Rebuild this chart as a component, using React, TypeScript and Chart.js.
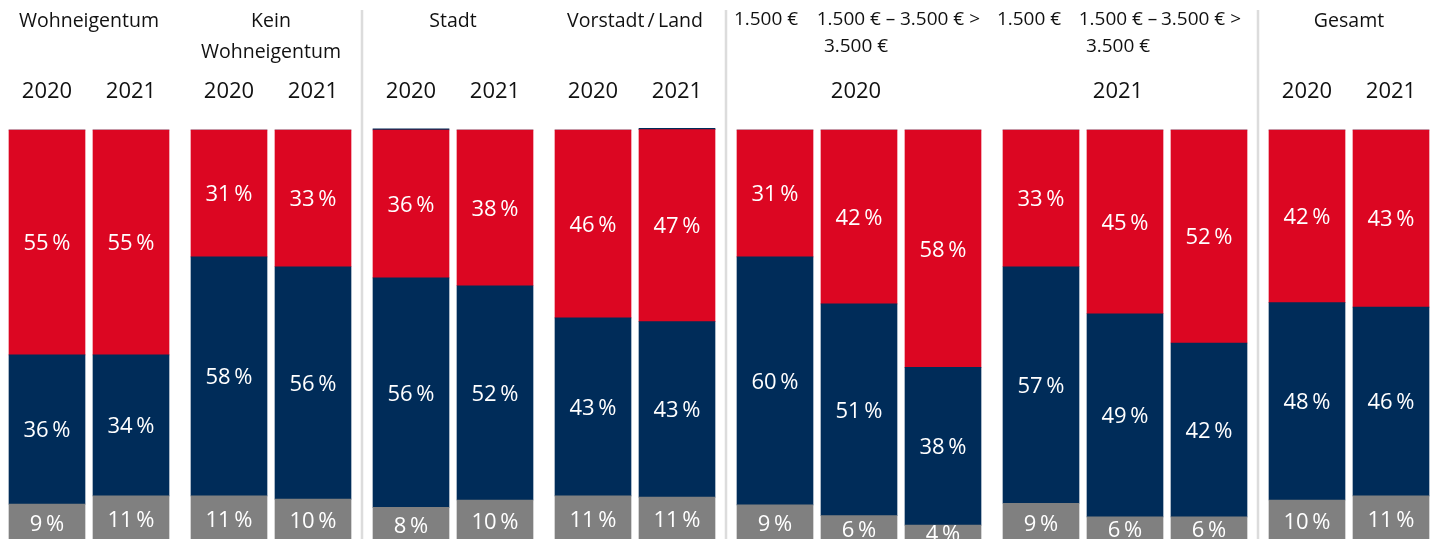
import React, { useEffect, useRef } from 'react';
import { Chart, registerables } from 'chart.js';

Chart.register(...registerables);

// ---- data ----
const groupTitles: string[][] = [
  ['Wohneigentum'],
  ['Kein', 'Wohneigentum'],
  ['Stadt'],
  ['Vorstadt\u2009/\u2009Land'],
  [],
  [],
  ['Gesamt'],
];
const barGroup = [0, 0, 1, 1, 2, 2, 3, 3, 4, 4, 4, 5, 5, 5, 6, 6];
const barYears = ['2020', '2021', '2020', '2021', '2020', '2021', '2020', '2021', '2020', '2020', '2020', '2021', '2021', '2021', '2020', '2021'];
const incomeLabels: string[][] = [
  [], [], [], [], [], [], [], [],
  ['1.500 €'], ['1.500 € –', '3.500 €'], ['3.500 € >'],
  ['1.500 €'], ['1.500 € –', '3.500 €'], ['3.500 € >'],
  [], [],
];
const separatorsAfterGroup = [1, 3, 5];

// shares in percent, bottom to top
const anteilGrau = [9.2, 11.2, 11.2, 10.4, 8.4, 10.2, 11.2, 10.9, 9.0, 6.4, 4.1, 9.4, 6.1, 6.1, 10.2, 11.2];
const anteilBlau = [36.2, 34.2, 58.0, 56.4, 55.7, 52.0, 43.2, 42.6, 60.2, 51.4, 38.3, 57.4, 49.3, 42.2, 47.9, 45.8];
const anteilRot = [54.6, 54.6, 30.8, 33.2, 35.9, 37.8, 45.6, 46.6, 30.8, 42.2, 57.6, 33.2, 44.6, 51.7, 41.9, 43.0];
const anteilRest = [0, 0, 0, 0, 0.3, 0, 0, 0.3, 0, 0, 0, 0, 0, 0, 0, 0];

// ---- layout / style ----
const W = 1431;
const H = 548;
const TOP = 128;
const BOTTOM = 542;
const PX_PER_PCT = 4.12;
const UNIT = 14; // px per x unit
const FIRST_CENTER = 47;
const BAR_W = 76;
const GREY = '#808080';
const NAVY = '#002C59';
const RED = '#DC0622';
const FONT = '"Open Sans", "Noto Sans", sans-serif';
const topLabelNudge = [0, 0, 0, 0, 0, 0, 0, 0, -9, -3, -3, -12, -7, -8, 0, 0];
const groupYearNudge = [0, 0, 0, 0, -3, -7, 0];

const xPos = barGroup.map((g, i) => i * 6 + g);
const pts = (arr: number[]) => arr.map((v, i) => ({ x: xPos[i], y: v }));

const overlayPlugin = {
  id: 'overlay',
  beforeDatasetsDraw(chart: any) {
    const ctx = chart.ctx;
    const xs = chart.scales.x;
    ctx.save();
    ctx.fillStyle = '#dcdcdc';
    separatorsAfterGroup.forEach((g) => {
      const last = barGroup.lastIndexOf(g);
      const first = barGroup.indexOf(g + 1);
      const sx = (xs.getPixelForValue(xPos[last]) + xs.getPixelForValue(xPos[first])) / 2;
      ctx.fillRect(sx - 1.25, 10, 2.5, H);
    });
    ctx.restore();
  },
  afterDatasetsDraw(chart: any) {
    const ctx = chart.ctx;
    const xs = chart.scales.x;
    ctx.save();
    // value labels
    ctx.fillStyle = '#ffffff';
    ctx.font = `22px ${FONT}`;
    ctx.textAlign = 'center';
    ctx.textBaseline = 'alphabetic';
    [0, 1, 2].forEach((di) => {
      const meta = chart.getDatasetMeta(di);
      meta.data.forEach((el: any, i: number) => {
        const v = chart.data.datasets[di].data[i].y;
        const p = el.getProps(['x', 'y', 'base'], true);
        const cy = (p.y + p.base) / 2;
        ctx.fillText(`${Math.round(v)}\u2009%`, p.x, cy + 7.9);
      });
    });

    const center = (i: number) => xs.getPixelForValue(xPos[i]);
    const groupIdx = (g: number) => barGroup.map((gg, i) => (gg === g ? i : -1)).filter((i) => i >= 0);

    ctx.fillStyle = '#111111';
    // group titles
    ctx.font = `19.5px ${FONT}`;
    groupTitles.forEach((lines, g) => {
      const idx = groupIdx(g);
      const cx = (center(idx[0]) + center(idx[idx.length - 1])) / 2;
      lines.forEach((t, li) => ctx.fillText(t, cx, 27 + li * 31));
    });
    // income labels
    ctx.font = `19px ${FONT}`;
    incomeLabels.forEach((lines, i) => {
      lines.forEach((t, li) => ctx.fillText(t, center(i) + topLabelNudge[i], 25 + li * 26.5));
    });
    // years
    ctx.font = `22px ${FONT}`;
    groupTitles.forEach((_, g) => {
      const idx = groupIdx(g);
      const years = idx.map((i) => barYears[i]);
      if (years.every((y) => y === years[0])) {
        const cx = (center(idx[0]) + center(idx[idx.length - 1])) / 2 + groupYearNudge[g];
        ctx.fillText(years[0], cx, 98);
      } else {
        idx.forEach((i) => ctx.fillText(barYears[i], center(i), 98));
      }
    });
    ctx.restore();
  },
};

export default function App() {
  const ref = useRef<HTMLCanvasElement | null>(null);
  useEffect(() => {
    if (!ref.current) return;
    const ds = (label: string, arr: number[], color: string) => ({
      label,
      data: pts(arr),
      backgroundColor: color,
      borderWidth: 0,
      barThickness: BAR_W,
      maxBarThickness: BAR_W,
    });
    const chart = new Chart(ref.current, {
      type: 'bar',
      data: {
        datasets: [
          ds('grau', anteilGrau, GREY),
          ds('blau', anteilBlau, NAVY),
          ds('rot', anteilRot, RED),
          ds('rest', anteilRest, NAVY),
        ] as any,
      },
      options: {
        animation: false,
        responsive: false,
        maintainAspectRatio: false,
        layout: { padding: { top: TOP, bottom: H - BOTTOM, left: 0, right: 0 } },
        plugins: { legend: { display: false }, tooltip: { enabled: false } },
        scales: {
          x: {
            type: 'linear',
            stacked: true,
            display: false,
            offset: false,
            bounds: 'data',
            grid: { offset: false },
            min: -FIRST_CENTER / UNIT,
            max: (W - FIRST_CENTER) / UNIT,
          },
          y: {
            stacked: true,
            display: false,
            min: 0,
            max: (BOTTOM - TOP) / PX_PER_PCT,
          },
        },
      } as any,
      plugins: [overlayPlugin],
    });
    return () => chart.destroy();
  }, []);

  return (
    <div style={{ position: 'fixed', left: 0, top: 0, width: W, height: 539, overflow: 'hidden', background: '#fff' }}>
      <canvas ref={ref} width={W} height={H} style={{ display: 'block', width: W, height: H }} />
    </div>
  );
}
